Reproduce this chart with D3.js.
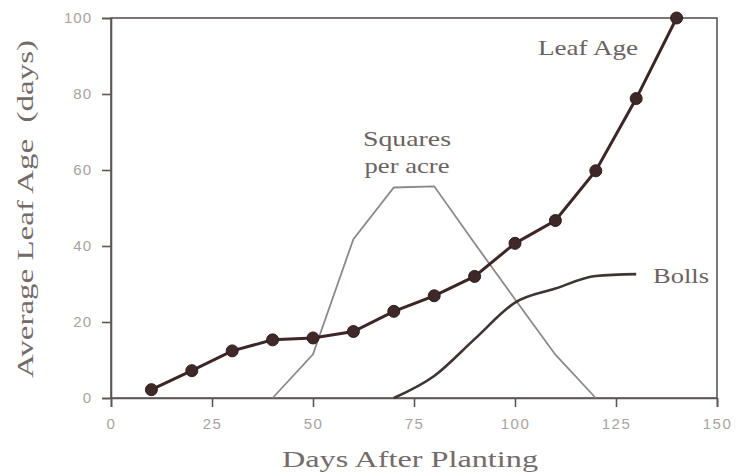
<!DOCTYPE html>
<html><head><meta charset="utf-8">
<script src="https://cdn.jsdelivr.net/npm/d3@7"></script>
<style>body{margin:0;background:#fff}svg{display:block}</style>
</head><body><svg id="c" width="738" height="475"></svg>
<script>
const leafDays = [10,20,30,40,50,60,70,80,90,100,110,120,130,140];
const leafAge = [2.2,7.2,12.4,15.3,15.8,17.5,22.8,26.9,32.0,40.7,46.7,59.8,78.8,100];
const squareDays = [40,50,60,70,80,90,100,110,120];
const squares = [0,11.5,41.8,55.4,55.7,40.7,26,11.4,0];
const bollDays = [70,80,90,100,110,120,130];
const bolls = [0,5.8,15.5,25.1,28.8,32.1,32.6];
const xTicks = [0,25,50,75,100,125,150];
const yTicks = [0,20,40,60,80,100];

const svg = d3.select("#c");
const L = 111, R = 717, T = 18, B = 398;
const x = d3.scaleLinear().domain([0,150]).range([L,R]);
const y = d3.scaleLinear().domain([0,100]).range([B,T]);
const axisCol = "#5e5555";
const serif = "'Liberation Serif','Times New Roman',serif";

// frame
svg.append("rect").attr("x",L).attr("y",T).attr("width",R-L).attr("height",B-T)
  .attr("fill","none").attr("stroke",axisCol).attr("stroke-width",1.6);

const xa = svg.append("g").attr("transform",`translate(0,${B})`)
  .call(d3.axisBottom(x).tickValues(xTicks).tickSize(9).tickPadding(11).tickFormat(d3.format("d")));
const ya = svg.append("g").attr("transform",`translate(${L},0)`)
  .call(d3.axisLeft(y).tickValues(yTicks).tickSize(9).tickPadding(10).tickFormat(d3.format("d")));
[xa,ya].forEach(g=>{
  g.select(".domain").attr("stroke",axisCol).attr("stroke-width",1.6);
  g.selectAll(".tick line").attr("stroke",axisCol).attr("stroke-width",1.6);
  g.selectAll(".tick text").attr("fill","#a8a2a2")
   .attr("font-family","'Liberation Sans',Arial,sans-serif").attr("font-size",15)
   .attr("letter-spacing","1px");
});
xa.selectAll(".tick text").attr("letter-spacing","1.5px");

const line = d3.line().x(d=>x(d[0])).y(d=>y(d[1]));

svg.append("path").datum(squareDays.map((d,i)=>[d,squares[i]]))
  .attr("d",line).attr("fill","none").attr("stroke","#8e8888").attr("stroke-width",1.8);

svg.append("path").datum(bollDays.map((d,i)=>[d,bolls[i]]))
  .attr("d",d3.line().x(d=>x(d[0])).y(d=>y(d[1])).curve(d3.curveMonotoneX))
  .attr("fill","none").attr("stroke","#3e3434").attr("stroke-width",2.6);

const leaf = leafDays.map((d,i)=>[d,leafAge[i]]);
svg.append("path").datum(leaf).attr("d",line).attr("fill","none")
  .attr("stroke","#3c2626").attr("stroke-width",3);
svg.append("g").selectAll("circle").data(leaf).join("circle")
  .attr("cx",d=>x(d[0])).attr("cy",d=>y(d[1])).attr("r",6)
  .attr("fill","#3e2828").attr("stroke","#2e1c1c").attr("stroke-width",1);

// labels
function lab(txt, cx, by, len, size, col){
  svg.append("text").attr("x",cx).attr("y",by).attr("text-anchor","middle")
    .attr("font-family",serif).attr("font-size",size).attr("fill",col||"#6a6262")
    .attr("textLength",len).attr("lengthAdjust","spacingAndGlyphs").text(txt);
}
lab("Leaf Age", 588, 55, 100, 22);
lab("Squares", 407, 146, 88, 22);
lab("per acre", 407, 173, 85, 22);
lab("Bolls", 681, 283, 56, 22);
lab("Days After Planting", 410, 467, 256, 24, "#736a6a");

svg.append("text").attr("transform","translate(33,209) rotate(-90)")
  .attr("text-anchor","middle").attr("font-family",serif).attr("font-size",24)
  .attr("fill","#736a6a").attr("textLength",338).attr("lengthAdjust","spacingAndGlyphs")
  .attr("xml:space","preserve").style("white-space","pre")
  .text("Average Leaf Age  (days)");
</script></body></html>
